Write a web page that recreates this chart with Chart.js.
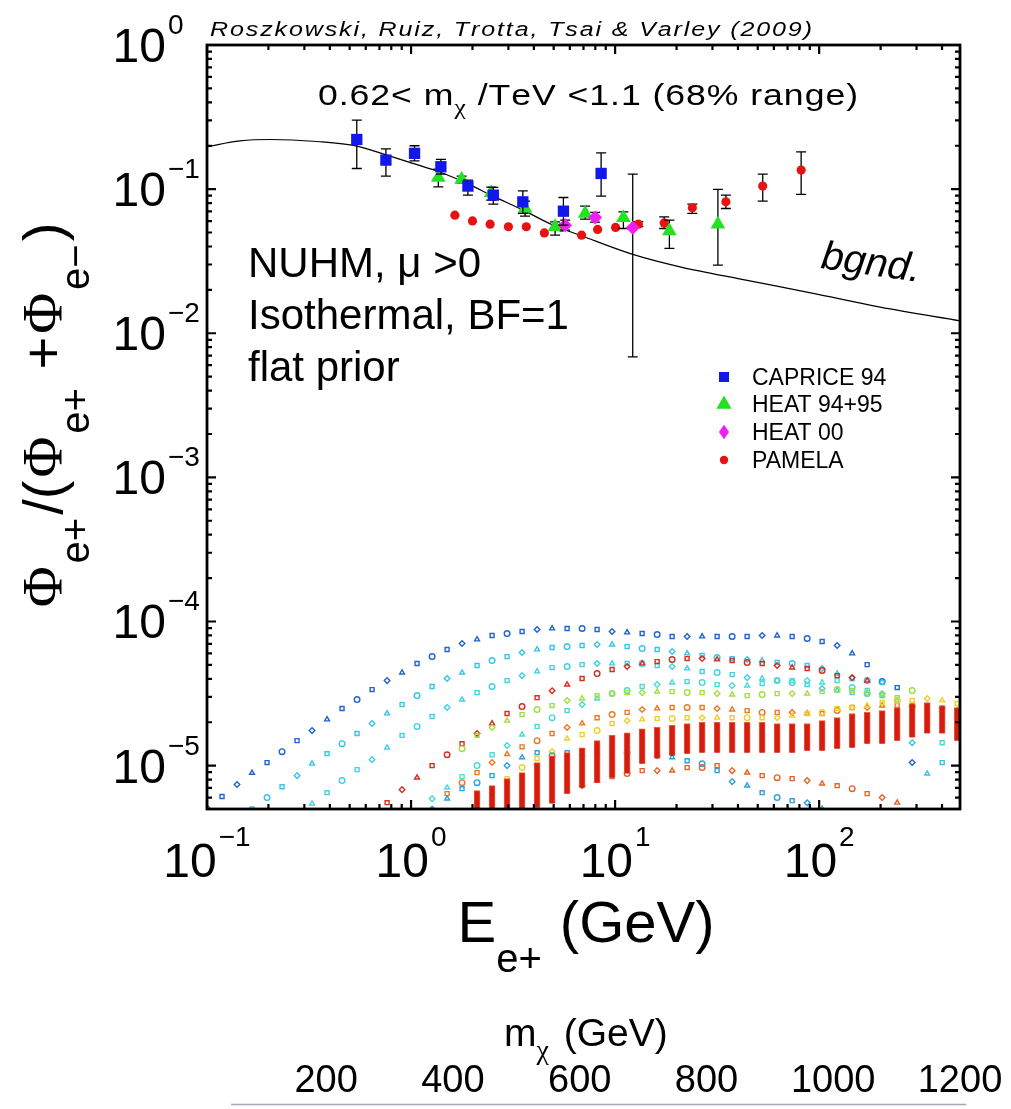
<!DOCTYPE html>
<html>
<head>
<meta charset="utf-8">
<script src="https://cdn.jsdelivr.net/npm/chart.js"></script>
<style>
  html, body { margin: 0; padding: 0; background: #ffffff; }
  canvas { display: block; }
</style>
</head>
<body>
<canvas id="chart" width="1011" height="1109"></canvas>
<script>
// ---------------- DATA ----------------
// Background curve (bgnd.)
const bgndE = [0.1, 0.145, 0.204, 0.346, 0.543, 0.762, 1.02, 1.39, 1.88, 2.52, 3.54, 4.97, 6.73, 12.1, 20.8, 44.4, 93.5, 199, 491];
const bgndV = [0.197, 0.216, 0.221, 0.214, 0.199, 0.172, 0.151, 0.131, 0.1096, 0.0894, 0.0715, 0.0562, 0.0479, 0.0354, 0.0289, 0.0233, 0.0189, 0.0152, 0.0122];

// CAPRICE 94
const capriceE = [0.542, 0.753, 1.04, 1.40, 1.90, 2.53, 3.53, 5.58, 8.54];
const capriceV = [0.221, 0.159, 0.177, 0.143, 0.105, 0.0908, 0.0816, 0.0703, 0.1285];
const capriceLow = [0.139, 0.123, 0.157, 0.127, 0.0908, 0.0787, 0.0678, 0.0562, 0.0894];
const capriceHigh = [0.301, 0.190, 0.200, 0.161, 0.1155, 0.1028, 0.0973, 0.0875, 0.1787];

// HEAT 94+95
const heatE = [1.36, 1.77, 2.47, 3.62, 5.08, 7.13, 10.98, 18.45, 31.9];
const heatV = [0.1206, 0.1167, 0.0942, 0.0734, 0.0548, 0.0678, 0.0632, 0.0513, 0.0571];
const heatLow = [0.1038, 0.110, 0.0839, 0.065, 0.048, 0.0619, 0.0533, 0.0388, 0.0297];
const heatHigh = [0.1377, 0.123, 0.1032, 0.0826, 0.0593, 0.0762, 0.0696, 0.0609, 0.0995];

// HEAT 00
const heat00E = [5.69, 7.98, 12.2];
const heat00V = [0.0562, 0.0636, 0.0539];
const heat00Low = [0.052, 0.059, 0.00685];
const heat00High = [0.061, 0.069, 0.127];

// PAMELA
const pamelaE = [1.64, 2.00, 2.44, 3.00, 3.67, 4.50, 5.47, 6.85, 8.21, 10.05, 13.0, 17.4, 23.9, 34.9, 52.9, 81.6];
const pamelaV = [0.0660, 0.0602, 0.0571, 0.0548, 0.0548, 0.0497, 0.0542, 0.0479, 0.0525, 0.0542, 0.0571, 0.0583, 0.0742, 0.0816, 0.105, 0.1355];
const pamelaLow = [null, null, null, null, null, null, null, null, null, null, 0.055, 0.0533, 0.0678, 0.0734, 0.0826, 0.0919];
const pamelaHigh = [null, null, null, null, null, null, null, null, null, null, 0.0595, 0.0642, 0.0787, 0.0908, 0.127, 0.1815];

// Energy grid of the model spectra (GeV)
const energyGrid = [0.1, 0.1185, 0.1403, 0.1662, 0.1969, 0.2332, 0.2763, 0.3272, 0.3876, 0.4591,
  0.5438, 0.6441, 0.763, 0.9034, 1.07, 1.268, 1.502, 1.778, 2.106, 2.495,
  2.955, 3.5, 4.146, 4.911, 5.818, 6.891, 8.162, 9.667, 11.45, 13.57,
  16.07, 19.03, 22.54, 26.7, 31.62, 37.46, 44.37, 52.55, 62.25, 73.74,
  87.34, 103.4, 122.5, 145.1, 171.9, 203.6, 241.2, 285.7, 338.4, 400.8, 474.8];

// Model spectra (positron fraction from neutralino annihilation), one value per grid energy
const modelA = [5.0e-6, 6.1e-6, 7.4e-6, 8.9e-6, 1.05e-5, 1.25e-5, 1.49e-5, 1.75e-5, 2.09e-5, 2.49e-5,
  2.87e-5, 3.37e-5, 3.89e-5, 4.42e-5, 5.11e-5, 5.71e-5, 6.39e-5, 7.03e-5, 7.5e-5, 7.99e-5,
  8.25e-5, 8.52e-5, 8.8e-5, 8.94e-5, 8.94e-5, 8.94e-5, 8.8e-5, 8.52e-5, 8.39e-5, 8.25e-5,
  8.12e-5, 7.87e-5, 7.87e-5, 7.87e-5, 7.87e-5, 7.87e-5, 7.87e-5, 7.99e-5, 7.99e-5, 7.87e-5,
  7.62e-5, 7.26e-5, 6.81e-5, 6.0e-5, 5.02e-5, 3.83e-5, 3.48e-5, 1.05e-5, null, null, null];
const modelB = [null, null, null, 5.0e-6, 6.0e-6, 7.14e-6, 8.52e-6, 1.03e-5, 1.21e-5, 1.42e-5,
  1.67e-5, 1.96e-5, 2.3e-5, 2.65e-5, 3.06e-5, 3.54e-5, 4.02e-5, 4.42e-5, 4.95e-5, 5.36e-5,
  5.71e-5, 6.09e-5, 6.39e-5, 6.6e-5, 6.7e-5, 6.81e-5, 6.92e-5, 6.92e-5, 6.7e-5, 6.49e-5,
  6.39e-5, 6.19e-5, 6.0e-5, 5.81e-5, 5.62e-5, 5.53e-5, 5.45e-5, 5.36e-5, 5.19e-5, 5.11e-5,
  4.95e-5, 4.72e-5, 4.35e-5, 4.02e-5, 3.89e-5, 3.77e-5, null, 1.44e-5, 8.8e-6, 1.05e-5, null];
const modelC = [null, null, null, null, null, null, null, 5.45e-6, 6.49e-6, 7.87e-6,
  9.38e-6, 1.10e-5, 1.33e-5, 1.62e-5, 1.87e-5, 2.19e-5, 2.53e-5, 2.87e-5, 3.21e-5, 3.54e-5,
  3.89e-5, 4.21e-5, 4.5e-5, 4.79e-5, 4.87e-5, 5.02e-5, 5.11e-5, 5.11e-5, 5.11e-5, 5.11e-5,
  4.95e-5, 4.87e-5, 4.72e-5, 4.5e-5, 4.42e-5, 4.28e-5, 4.08e-5, 4.02e-5, 3.89e-5, 3.77e-5,
  3.65e-5, 3.43e-5, 3.32e-5, 3.21e-5, 3.16e-5, 3.06e-5, null, null, null, null, null];
const modelC2 = [null, null, null, null, null, null, null, null, null, null,
  null, null, null, null, null, 5.9e-6, 7.03e-6, 8.39e-6, 1.0e-5, 1.19e-5,
  1.38e-5, 1.64e-5, 1.87e-5, 2.15e-5, 2.41e-5, 2.65e-5, 2.92e-5, 3.16e-5, 3.32e-5, 3.54e-5,
  3.65e-5, 3.77e-5, 3.83e-5, 3.77e-5, 3.65e-5, 3.59e-5, 3.59e-5, 3.71e-5, 3.89e-5, 3.89e-5,
  3.89e-5, 3.77e-5, 3.89e-5, 3.48e-5, 3.32e-5, 3.16e-5, 2.83e-5, null, null, 1.44e-5, null];
const modelD = [null, null, null, null, null, null, null, null, null, null,
  null, null, 5.53e-6, 6.81e-6, 8.25e-6, 1.0e-5, 1.19e-5, 1.42e-5, 1.67e-5, 1.96e-5,
  2.3e-5, 2.57e-5, 2.96e-5, 3.31e-5, 3.65e-5, 4.02e-5, 4.35e-5, 4.64e-5, 4.87e-5, 5.11e-5,
  5.27e-5, 5.45e-5, 5.53e-5, 5.53e-5, 5.45e-5, 5.36e-5, 5.19e-5, 5.11e-5, 4.95e-5, 4.79e-5,
  4.72e-5, 4.57e-5, 4.21e-5, 4.08e-5, 3.89e-5, null, null, null, null, null, null];
const modelE = [null, null, null, null, null, null, null, null, null, null,
  null, null, null, null, null, null, null, 1.31e-5, 1.62e-5, 1.84e-5,
  2.05e-5, 2.26e-5, 2.45e-5, 2.61e-5, 2.83e-5, 2.92e-5, 3.06e-5, 3.16e-5, 3.21e-5, 3.21e-5,
  3.26e-5, 3.26e-5, 3.21e-5, 3.21e-5, 3.16e-5, 3.11e-5, 3.06e-5, 3.11e-5, 3.16e-5, 3.16e-5,
  3.16e-5, 3.26e-5, 3.37e-5, 3.32e-5, 3.21e-5, 3.11e-5, 2.96e-5, 3.32e-5, null, null, null];
const modelF = [null, null, null, null, null, null, null, null, null, null,
  null, null, null, null, null, null, 6.39e-6, 7.62e-6, 8.94e-6, 1.05e-5,
  1.2e-5, 1.35e-5, 1.49e-5, 1.67e-5, 1.84e-5, 1.96e-5, 2.15e-5, 2.26e-5, 2.34e-5, 2.45e-5,
  2.49e-5, 2.53e-5, 2.53e-5, 2.53e-5, 2.49e-5, 2.45e-5, 2.41e-5, 2.34e-5, 2.34e-5, 2.34e-5,
  2.3e-5, 2.3e-5, 2.41e-5, 2.53e-5, 2.53e-5, 2.61e-5, 2.61e-5, 2.57e-5, 2.53e-5, 2.49e-5, 2.41e-5];
const modelG = [null, null, null, null, null, null, null, null, null, null,
  null, null, null, null, null, null, null, null, null, 6.7e-6,
  8.12e-6, 9.69e-6, 1.12e-5, 1.25e-5, 1.54e-5, 1.64e-5, 1.75e-5, 1.96e-5, 2.05e-5, 2.09e-5,
  2.12e-5, 2.12e-5, 2.15e-5, 2.15e-5, 2.15e-5, 2.15e-5, 2.15e-5, 2.15e-5, 2.15e-5, 2.22e-5,
  2.3e-5, 2.34e-5, 2.49e-5, 2.53e-5, 2.61e-5, 2.74e-5, 2.83e-5, 2.83e-5, 2.92e-5, 2.83e-5, 2.7e-5];
const modelH = [null, null, null, null, null, null, null, null, null, null,
  null, null, null, null, null, 5.0e-6, 5.9e-6, 6.92e-6, 7.62e-6, 8.52e-6,
  1.0e-5, 1.14e-5, 1.23e-5, 1.17e-5, 1.23e-5, 1.17e-5, 1.23e-5, 1.23e-5, 1.23e-5, 1.17e-5,
  1.17e-5, 1.14e-5, 1.08e-5, 1.03e-5, 9.23e-6, 7.74e-6, 7.26e-6, 6.49e-6, 6.0e-6, 5.71e-6,
  5.53e-6, 5.0e-6, null, null, null, null, null, null, null, null, null];
const modelI = [null, null, null, null, null, null, null, null, null, null,
  null, null, null, null, null, null, null, null, null, null,
  null, null, null, null, 6.7e-6, 7.26e-6, 7.87e-6, 8.39e-6, 8.8e-6, 9.23e-6,
  9.23e-6, 9.23e-6, 9.69e-6, 9.69e-6, 1.0e-5, 9.23e-6, 8.94e-6, 8.52e-6, 8.25e-6, 8.12e-6,
  7.87e-6, 7.5e-6, 7.26e-6, 6.92e-6, 6.39e-6, 6.0e-6, 5.53e-6, null, null, null, null];

// Dense band of heavy-neutralino models (from grid index 18 onward)
const bandLow = [4.95e-6, 4.95e-6, 4.95e-6, 4.95e-6, 5.11e-6, 5.45e-6, 6.39e-6, 7.03e-6, 7.62e-6, 8.25e-6,
  8.8e-6, 1.03e-5, 1.12e-5, 1.17e-5, 1.21e-5, 1.23e-5, 1.23e-5, 1.23e-5, 1.23e-5, 1.23e-5,
  1.23e-5, 1.23e-5, 1.27e-5, 1.27e-5, 1.31e-5, 1.33e-5, 1.42e-5, 1.42e-5, 1.49e-5, 1.57e-5,
  1.67e-5, 1.67e-5, 1.49e-5];
const bandHigh = [6.7e-6, 7.26e-6, 8.12e-6, 8.94e-6, 1.05e-5, 1.17e-5, 1.23e-5, 1.33e-5, 1.49e-5, 1.62e-5,
  1.69e-5, 1.80e-5, 1.84e-5, 1.90e-5, 1.96e-5, 2.0e-5, 2.0e-5, 2.0e-5, 2.0e-5, 2.0e-5,
  1.96e-5, 1.96e-5, 1.96e-5, 2.05e-5, 2.15e-5, 2.3e-5, 2.34e-5, 2.41e-5, 2.53e-5, 2.69e-5,
  2.74e-5, 2.61e-5, 2.53e-5];

// Axis ticks
const xTickValues = [0.1, 1, 10, 100];
const xTickExps = ['\u22121', '0', '1', '2'];
const yTickValues = [1e-5, 1e-4, 1e-3, 1e-2, 1e-1, 1];
const yTickExps = ['\u22125', '\u22124', '\u22123', '\u22122', '\u22121', '0'];
const mTicks = [200, 400, 600, 800, 1000, 1200];
const colorbarRange = [50, 1210];

const legendLabels = ['CAPRICE 94', 'HEAT 94+95', 'HEAT 00', 'PAMELA'];

// ---------------- STYLE / BUILD ----------------
const SANS = "'Liberation Sans', Arial, Helvetica, sans-serif";
const SERIF = "'Liberation Serif', 'Times New Roman', serif";

const COL_CAPRICE = 'rgb(18,24,235)';
const COL_HEAT = 'rgb(34,226,34)';
const COL_HEAT00 = 'rgb(240,30,240)';
const COL_PAMELA = 'rgb(232,18,18)';

const toXY = (xs, ys) => xs.map((x, i) => ({x: x, y: ys[i]}));

const modelSeries = [
  {data: modelI, color: 'rgb(226,100,40)'},
  {data: modelH, color: 'rgb(45,160,225)'},
  {data: modelG, color: 'rgb(238,208,45)'},
  {data: modelF, color: 'rgb(236,120,35)'},
  {data: modelE, color: 'rgb(160,222,70)'},
  {data: modelD, color: 'rgb(214,45,30)'},
  {data: modelC2, color: 'rgb(75,218,212)'},
  {data: modelC, color: 'rgb(65,208,230)'},
  {data: modelB, color: 'rgb(55,196,235)'},
  {data: modelA, color: 'rgb(32,100,205)'}
];
const modelShapes = ['rect', 'rectRot', 'triangle', 'rect', 'circle'];

const datasets = [];
modelSeries.forEach((m, k) => {
  datasets.push({
    type: 'scatter',
    label: 'model' + k,
    data: energyGrid.map((e, i) => ({x: e, y: m.data[i]})).filter(p => p.y !== null),
    pointStyle: (c) => modelShapes[(c.dataIndex + k) % modelShapes.length],
    pointRadius: 2.8,
    pointBorderWidth: 1.4,
    borderColor: m.color,
    backgroundColor: 'rgba(255,255,255,0)',
    order: 10 + k
  });
});

datasets.push({
  type: 'bar',
  label: 'band',
  data: energyGrid.slice(18).map((e, i) => ({x: e, y: [bandLow[i], bandHigh[i]]})),
  backgroundColor: 'rgb(212,28,18)',
  borderColor: 'rgb(240,90,50)',
  borderWidth: 1,
  barThickness: 6,
  order: 9
});

datasets.push({
  type: 'line',
  label: 'bgnd',
  data: toXY(bgndE, bgndV),
  borderColor: '#000',
  borderWidth: 1.2,
  pointRadius: 0,
  fill: false,
  cubicInterpolationMode: 'monotone',
  order: 5
});

datasets.push({
  type: 'scatter', label: 'PAMELA', data: toXY(pamelaE, pamelaV),
  pointStyle: 'circle', pointRadius: 4.6, pointBorderWidth: 0,
  backgroundColor: COL_PAMELA, borderColor: COL_PAMELA, order: 3
});
datasets.push({
  type: 'scatter', label: 'HEAT 94+95', data: toXY(heatE, heatV),
  pointStyle: 'triangle', pointRadius: 8.5, pointBorderWidth: 0,
  backgroundColor: COL_HEAT, borderColor: COL_HEAT, order: 2
});
datasets.push({
  type: 'scatter', label: 'HEAT 00', data: toXY(heat00E, heat00V),
  pointStyle: 'rectRot', pointRadius: 7, pointBorderWidth: 0,
  backgroundColor: COL_HEAT00, borderColor: COL_HEAT00, order: 1
});
datasets.push({
  type: 'scatter', label: 'CAPRICE 94', data: toXY(capriceE, capriceV),
  pointStyle: 'rect', pointRadius: 8, pointBorderWidth: 0,
  backgroundColor: COL_CAPRICE, borderColor: COL_CAPRICE, order: 0
});

const errorSets = {
  'CAPRICE 94': {low: capriceLow, high: capriceHigh},
  'HEAT 94+95': {low: heatLow, high: heatHigh},
  'HEAT 00': {low: heat00Low, high: heat00High},
  'PAMELA': {low: pamelaLow, high: pamelaHigh}
};

// ---------------- TEXT HELPERS ----------------
function drawParts(ctx, parts, x, y, sp) {
  for (const p of parts) {
    ctx.font = p.font;
    const dy = p.dy || 0;
    for (const ch of p.t) {
      ctx.fillText(ch, x, y + dy);
      x += ctx.measureText(ch).width + sp;
    }
    x += (p.gap || 0);
  }
  return x;
}
function partsWidth(ctx, parts, sp) {
  let w = 0;
  for (const p of parts) {
    ctx.font = p.font;
    for (const ch of p.t) w += ctx.measureText(ch).width + sp;
    w += (p.gap || 0);
  }
  return w - sp;
}
// draw a sequence of text parts with a little letter spacing, stretched to a target width
function drawFitted(ctx, parts, x, y, sp, target) {
  const w = partsWidth(ctx, parts, sp);
  ctx.save();
  ctx.translate(x, y);
  ctx.scale(target / w, 1);
  drawParts(ctx, parts, 0, 0, sp);
  ctx.restore();
}
function drawMarker(ctx, style, x, y, r, color) {
  ctx.save();
  ctx.fillStyle = color;
  ctx.beginPath();
  if (style === 'rect') {
    ctx.rect(x - r, y - r, 2 * r, 2 * r);
  } else if (style === 'triangle') {
    ctx.moveTo(x, y - r * 1.05);
    ctx.lineTo(x + r * 0.95, y + r * 0.6);
    ctx.lineTo(x - r * 0.95, y + r * 0.6);
    ctx.closePath();
  } else if (style === 'diamond') {
    ctx.moveTo(x, y - r * 1.2);
    ctx.lineTo(x + r * 0.85, y);
    ctx.lineTo(x, y + r * 1.2);
    ctx.lineTo(x - r * 0.85, y);
    ctx.closePath();
  } else {
    ctx.arc(x, y, r, 0, Math.PI * 2);
  }
  ctx.fill();
  ctx.restore();
}

// ---------------- PLUGINS ----------------
const errorBarPlugin = {
  id: 'errorBars',
  beforeDatasetDraw(chart, args) {
    const ds = chart.data.datasets[args.index];
    const eb = errorSets[ds.label];
    if (!eb) return;
    const ctx = chart.ctx;
    const xs = chart.scales.x, ys = chart.scales.y;
    ctx.save();
    ctx.strokeStyle = '#000';
    ctx.lineWidth = 1.3;
    ds.data.forEach((p, i) => {
      if (eb.low[i] == null || eb.high[i] == null) return;
      const px = xs.getPixelForValue(p.x);
      const y1 = ys.getPixelForValue(eb.low[i]);
      const y2 = ys.getPixelForValue(eb.high[i]);
      ctx.beginPath();
      ctx.moveTo(px, y1); ctx.lineTo(px, y2);
      ctx.moveTo(px - 5, y1); ctx.lineTo(px + 5, y1);
      ctx.moveTo(px - 5, y2); ctx.lineTo(px + 5, y2);
      ctx.stroke();
    });
    ctx.restore();
  }
};

const framePlugin = {
  id: 'frame',
  afterDatasetsDraw(chart) {
    const ctx = chart.ctx;
    const {left, right, top, bottom} = chart.chartArea;
    const xs = chart.scales.x, ys = chart.scales.y;
    ctx.save();
    ctx.strokeStyle = '#000';
    ctx.lineWidth = 2.2;
    ctx.beginPath();
    for (let e = -1; e <= 2; e++) {
      for (let k = 1; k <= 9; k++) {
        const v = k * Math.pow(10, e);
        if (v < xs.min || v > xs.max) continue;
        const px = xs.getPixelForValue(v);
        const len = k === 1 ? 9 : 5;
        ctx.moveTo(px, bottom); ctx.lineTo(px, bottom - len);
        ctx.moveTo(px, top); ctx.lineTo(px, top + len);
      }
    }
    for (let e = -6; e <= 0; e++) {
      for (let k = 1; k <= 9; k++) {
        const v = k * Math.pow(10, e);
        if (v < ys.min * 0.999 || v > ys.max * 1.001) continue;
        const py = ys.getPixelForValue(v);
        const len = k === 1 ? 9 : 5;
        ctx.moveTo(left, py); ctx.lineTo(left + len, py);
        ctx.moveTo(right, py); ctx.lineTo(right - len, py);
      }
    }
    ctx.stroke();
    ctx.lineWidth = 2.8;
    ctx.strokeRect(left, top, right - left, bottom - top);
    ctx.restore();
  },
  afterDraw(chart) {
    const ctx = chart.ctx;
    const xs = chart.scales.x, ys = chart.scales.y, ms = chart.scales.m;
    ctx.save();
    ctx.fillStyle = '#000';
    ctx.textBaseline = 'alphabetic';
    ctx.textAlign = 'left';

    // y tick labels
    yTickValues.forEach((v, i) => {
      const py = ys.getPixelForValue(v);
      ctx.font = '48px ' + SANS;
      ctx.textAlign = 'right';
      ctx.fillText('10', 166, py + 17);
      ctx.textAlign = 'left';
      ctx.font = '28px ' + SANS;
      ctx.fillText(yTickExps[i], 168, py - 11);
    });
    // x tick labels
    xTickValues.forEach((v, i) => {
      const px = xs.getPixelForValue(v);
      ctx.font = '48px ' + SANS;
      const w1 = ctx.measureText('10').width;
      ctx.font = '28px ' + SANS;
      const w2 = ctx.measureText(xTickExps[i]).width;
      const x0 = px - (w1 + w2 + 2) / 2;
      ctx.font = '48px ' + SANS;
      ctx.fillText('10', x0, 877);
      ctx.font = '28px ' + SANS;
      ctx.fillText(xTickExps[i], x0 + w1 + 2, 846);
    });

    // x title
    const xt = [
      {t: 'E', font: '58px ' + SANS},
      {t: 'e+', font: '40px ' + SANS, dy: 30, gap: 2},
      {t: ' (GeV)', font: '58px ' + SANS}
    ];
    const xtw = partsWidth(ctx, xt, 0);
    drawParts(ctx, xt, 586 - xtw / 2, 942, 0);

    // y title (rotated)
    ctx.save();
    ctx.translate(62, 415);
    ctx.rotate(-Math.PI / 2);
    const yt = [
      {t: '\u03A6', font: '56px ' + SERIF, gap: 3},
      {t: 'e+', font: '40px ' + SANS, dy: 27, gap: 3},
      {t: '/(', font: '56px ' + SANS, gap: 3},
      {t: '\u03A6', font: '56px ' + SERIF, gap: 3},
      {t: 'e+', font: '40px ' + SANS, dy: 27, gap: 3},
      {t: ' +', font: '56px ' + SANS, gap: 3},
      {t: '\u03A6', font: '56px ' + SERIF, gap: 3},
      {t: 'e\u2212', font: '40px ' + SANS, dy: 27, gap: 3},
      {t: ')', font: '56px ' + SANS}
    ];
    const ytw = partsWidth(ctx, yt, 0);
    drawParts(ctx, yt, -ytw / 2, 0, 0);
    ctx.restore();

    // credit line
    const cr = [{t: 'Roszkowski, Ruiz, Trotta, Tsai & Varley (2009)', font: 'italic 20px ' + SANS}];
    drawFitted(ctx, cr, 210, 36, 1.5, 602);

    // mass range annotation
    const an = [
      {t: '0.62< m', font: '30px ' + SANS},
      {t: '\u03C7', font: '22px ' + SERIF, dy: 9},
      {t: ' /TeV <1.1 (68% range)', font: '30px ' + SANS}
    ];
    drawFitted(ctx, an, 318, 105, 0.8, 540);

    // model description
    ctx.font = '42px ' + SANS;
    ctx.fillText('NUHM, \u03BC >0', 248, 277);
    ctx.fillText('Isothermal, BF=1', 248, 329);
    ctx.fillText('flat prior', 248, 381);

    // bgnd label
    ctx.save();
    ctx.translate(820, 268);
    ctx.rotate(0.14);
    ctx.font = 'italic 40px ' + SANS;
    ctx.fillText('bgnd.', 0, 0);
    ctx.restore();

    // legend
    const legY = [377, 404, 432, 460];
    const legStyle = [['rect', 5, COL_CAPRICE], ['triangle', 8, COL_HEAT], ['diamond', 6, COL_HEAT00], ['circle', 4.2, COL_PAMELA]];
    legendLabels.forEach((lab, i) => {
      drawMarker(ctx, legStyle[i][0], 724, legY[i], legStyle[i][1], legStyle[i][2]);
      ctx.font = '23px ' + SANS;
      ctx.fillStyle = '#000';
      ctx.fillText(lab, 752, legY[i] + 8);
    });

    // colorbar axis title and line
    const mt = [
      {t: 'm', font: '39px ' + SANS},
      {t: '\u03C7', font: '28px ' + SERIF, dy: 13, gap: 4},
      {t: ' (GeV)', font: '39px ' + SANS}
    ];
    drawParts(ctx, mt, 504, 1046, 0);
    ctx.strokeStyle = 'rgb(168,166,182)';
    ctx.lineWidth = 1.5;
    ctx.beginPath();
    ctx.moveTo(ms.getPixelForValue(colorbarRange[0]), 1104.5);
    ctx.lineTo(ms.getPixelForValue(colorbarRange[1]), 1104.5);
    ctx.stroke();
    ctx.restore();
  }
};

// ---------------- CHART ----------------
const chart = new Chart(document.getElementById('chart'), {
  type: 'scatter',
  data: {datasets: datasets},
  options: {
    responsive: false,
    animation: false,
    devicePixelRatio: 1,
    layout: {padding: {top: 45, right: 51, left: 0, bottom: 0}},
    plugins: {legend: {display: false}, tooltip: {enabled: false}},
    scales: {
      x: {
        type: 'logarithmic', min: 0.1, max: 490, position: 'bottom', weight: 0, offset: false,
        grid: {display: false}, border: {display: false}, ticks: {display: false},
        afterFit(s) { s.height = 295; s.paddingLeft = 0; s.paddingRight = 0; }
      },
      m: {
        type: 'linear', axis: 'x', min: 12, max: 1200, position: 'bottom', weight: 1,
        grid: {display: false, drawTicks: false}, border: {display: false},
        ticks: {
          mirror: true, padding: 0, maxRotation: 0, minRotation: 0, autoSkip: false,
          color: '#000', font: {size: 38, family: SANS},
          callback: (v) => String(v)
        },
        afterBuildTicks(s) { s.ticks = mTicks.map(v => ({value: v})); },
        afterFit(s) { s.height = 5; s.paddingLeft = 0; s.paddingRight = 0; }
      },
      y: {
        type: 'logarithmic', min: 5e-6, max: 1, position: 'left',
        grid: {display: false}, border: {display: false}, ticks: {display: false},
        afterFit(s) { s.width = 207; s.paddingTop = 0; s.paddingBottom = 0; }
      }
    }
  },
  plugins: [errorBarPlugin, framePlugin]
});
</script>
</body>
</html>
